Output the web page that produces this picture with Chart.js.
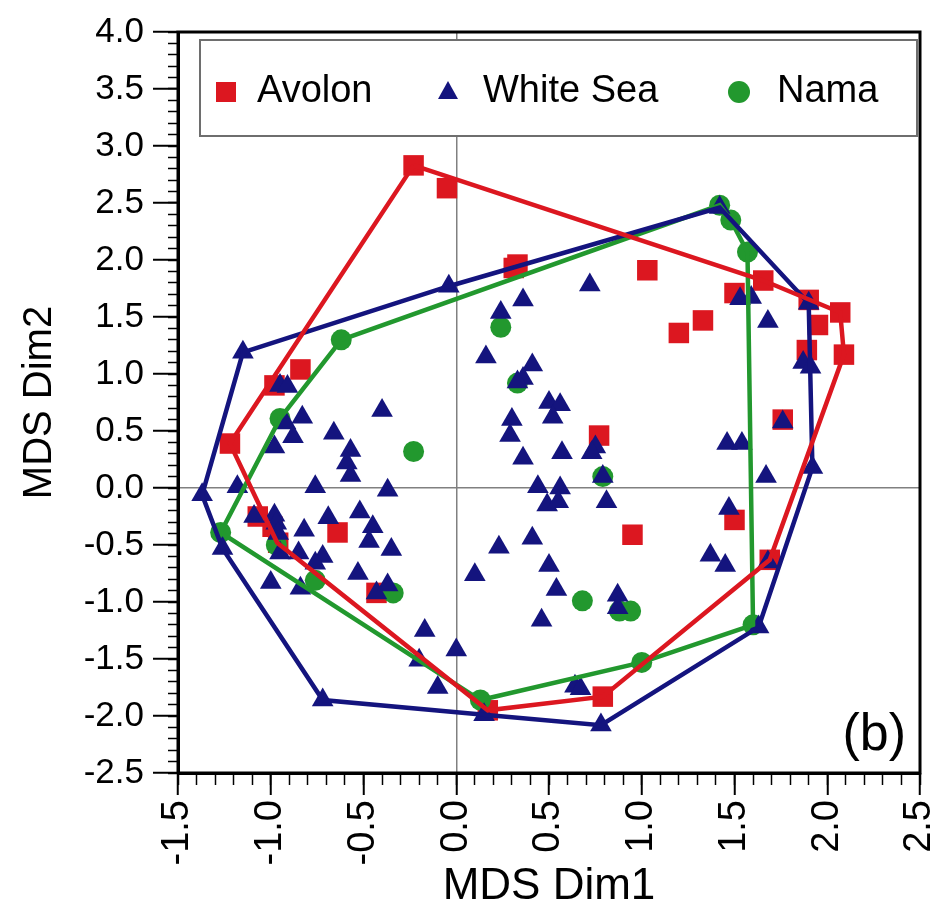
<!DOCTYPE html>
<html>
<head>
<meta charset="utf-8">
<script src="https://cdn.jsdelivr.net/npm/chart.js@4.4.0/dist/chart.umd.min.js"></script>
<style>
  html, body { margin: 0; padding: 0; background: #fff; }
</style>
</head>
<body>
<canvas id="mds" width="943" height="913"></canvas>
<script>
// groups
const groupNames = ['Avolon', 'White Sea', 'Nama'];

// Avolon (red squares)
const avolonX = [-0.23, -0.05, 0.33, 0.31, 1.03, 1.20, 1.33, 1.50, 1.655, 1.90, 2.07, 1.95, 1.89, 2.09,
  1.76, 1.50, 1.69, 0.77, 0.95, 0.79, 0.17, -0.84, -0.98, -1.22, -1.07, -0.99, -0.96, -0.64, -0.43];
const avolonY = [2.83, 2.63, 1.96, 1.93, 1.91, 1.36, 1.47, 1.71, 1.82, 1.65, 1.54, 1.43, 1.21, 1.17,
  0.60, -0.28, -0.63, 0.46, -0.41, -1.83, -1.95, 1.04, 0.90, 0.39, -0.25, -0.34, -0.48, -0.39, -0.92];

// White Sea (blue triangles)
const whiteSeaX = [-1.15, -0.04, 1.42, 1.90, 1.92, 1.63, 0.78, 0.15, -0.72, -1.26, -1.37,
  -0.95, -0.91, 0.72, 0.36, 0.24, 0.16, 0.41, 0.36, 1.53, 1.59, 1.68, 1.87, 1.91,
  -0.40, -0.83, -0.92, -0.66, -0.88, -0.98, -0.57, -0.59, -0.57, -1.18, -0.76, -0.37,
  -1.09, -0.98, -0.97, -0.69, -0.52, -0.82, -0.45, -0.96, -0.47, -0.35, -0.95, -0.85,
  -0.72, -0.76, -0.53, -1.00, -0.84, -0.43, -0.37, -0.17, 0.10,
  0.33, 0.50, 0.56, 0.52, 0.30, 0.29, 0.75, 0.73, 0.57, 0.36, 0.79, 0.44, 0.56, 0.49,
  0.55, 0.81, 0.41, 0.23, 0.50, 0.54, 0.87, 0.87, 0.46, 0.00, 0.64, 0.67, -0.20, -0.10,
  1.76, 1.46, 1.54, 1.67, 1.47, 1.37, 1.45, 1.68];
const whiteSeaY = [1.19, 1.77, 2.46, 1.62, 0.18, -1.22, -2.08, -1.99, -1.86, -0.53, -0.06,
  0.90, 0.89, 1.78, 1.65, 1.54, 1.15, 1.08, 0.96, 1.66, 1.67, 1.46, 1.10, 1.06,
  0.68, 0.62, 0.57, 0.48, 0.45, 0.36, 0.33, 0.22, 0.11, 0.01, 0.01, -0.02,
  -0.25, -0.24, -0.31, -0.26, -0.21, -0.37, -0.34, -0.40, -0.47, -0.54, -0.57, -0.57,
  -0.60, -0.66, -0.75, -0.83, -0.88, -0.92, -0.85, -1.25, -0.76,
  0.93, 0.75, 0.73, 0.62, 0.60, 0.46, 0.36, 0.31, 0.31, 0.26, 0.10, 0.01, 0.00, -0.15,
  -0.12, -0.12, -0.44, -0.52, -0.68, -0.89, -0.94, -1.05, -1.16, -1.42, -1.74, -1.76, -1.51, -1.75,
  0.58, 0.39, 0.39, 0.10, -0.18, -0.59, -0.68, -0.65];

// Nama (green circles)
const namaX = [-0.62, 1.42, 1.48, 1.57, 1.60, 1.00, 0.13, -1.27, -0.95, -0.23, 0.24, 0.33,
  0.79, 0.68, 0.88, 0.94, -0.34, -0.76, -0.97];
const namaY = [1.30, 2.48, 2.35, 2.07, -1.20, -1.53, -1.86, -0.39, 0.61, 0.32, 1.41, 0.92,
  0.10, -0.99, -1.08, -1.08, -0.92, -0.81, -0.50];

// convex hull outlines
const avolonHullX = [-0.23, 1.655, 2.07, 2.09, 1.69, 0.79, 0.17, -0.965, -1.22, -0.23];
const avolonHullY = [2.83, 1.82, 1.54, 1.17, -0.63, -1.83, -1.95, -0.48, 0.39, 2.83];
const whiteSeaHullX = [-1.15, -0.04, 1.42, 1.90, 1.92, 1.63, 0.78, 0.15, -0.72, -1.26, -1.37, -1.15];
const whiteSeaHullY = [1.19, 1.77, 2.46, 1.62, 0.18, -1.22, -2.08, -1.99, -1.86, -0.53, -0.06, 1.19];
const namaHullX = [-0.62, 1.42, 1.48, 1.57, 1.60, 1.00, 0.13, -1.27, -0.95, -0.62];
const namaHullY = [1.30, 2.48, 2.35, 2.07, -1.20, -1.53, -1.86, -0.39, 0.61, 1.30];

const RED = '#dc1720';
const BLUE = '#14147e';
const GREEN = '#22982e';
const FONT = "'Liberation Sans', Arial, sans-serif";

function pts(xs, ys) {
    return xs.map((x, i) => ({ x: x, y: ys[i] }));
}

function hull(xs, ys, color, order) {
    return {
        data: pts(xs, ys),
        showLine: true,
        borderColor: color,
        borderWidth: 4.5,
        pointRadius: 0,
        pointHoverRadius: 0,
        fill: false,
        order: order
    };
}

// rahmen, legende und (b)
const decorations = {
    id: 'decorations',
    afterDraw(chart) {
        const ctx = chart.ctx;
        const a = chart.chartArea;
        ctx.save();
        ctx.strokeStyle = '#000';
        ctx.lineWidth = 3;
        ctx.strokeRect(a.left, a.top, a.right - a.left, a.bottom - a.top);

        // legend box
        ctx.fillStyle = '#fff';
        ctx.fillRect(200, 40, 717, 96);
        ctx.strokeStyle = '#6e6e6e';
        ctx.lineWidth = 2;
        ctx.strokeRect(200, 40, 717, 96);

        const cy = 92;
        ctx.fillStyle = RED;
        ctx.fillRect(216, cy - 10, 20, 20);
        ctx.fillStyle = BLUE;
        ctx.beginPath();
        ctx.moveTo(448, cy - 11);
        ctx.lineTo(458, cy + 7);
        ctx.lineTo(438, cy + 7);
        ctx.closePath();
        ctx.fill();
        ctx.fillStyle = GREEN;
        ctx.beginPath();
        ctx.arc(739, cy, 11, 0, Math.PI * 2);
        ctx.fill();

        ctx.fillStyle = '#000';
        ctx.font = '38px ' + FONT;
        ctx.textBaseline = 'middle';
        ctx.textAlign = 'left';
        ctx.fillText(groupNames[0], 257, cy);
        ctx.fillText(groupNames[1], 483, cy);
        ctx.fillText(groupNames[2], 777, cy);

        ctx.font = '52px ' + FONT;
        ctx.textAlign = 'right';
        ctx.textBaseline = 'alphabetic';
        ctx.fillText('(b)', 906, 750);
        ctx.restore();
    }
};

const zeroLine = c => (c.tick && Math.abs(c.tick.value) < 1e-9) ? '#808080' : 'rgba(0,0,0,0)';

new Chart(document.getElementById('mds'), {
    type: 'scatter',
    data: {
        datasets: [
            hull(avolonHullX, avolonHullY, RED, 1),
            hull(whiteSeaHullX, whiteSeaHullY, BLUE, 2),
            hull(namaHullX, namaHullY, GREEN, 3),
            {
                label: groupNames[1],
                data: pts(whiteSeaX, whiteSeaY),
                pointStyle: 'triangle',
                pointRadius: 12.5,
                backgroundColor: BLUE,
                borderColor: BLUE,
                borderWidth: 0,
                order: 4
            },
            {
                label: groupNames[2],
                data: pts(namaX, namaY),
                pointStyle: 'circle',
                pointRadius: 10.5,
                backgroundColor: GREEN,
                borderColor: GREEN,
                borderWidth: 0,
                order: 5
            },
            {
                label: groupNames[0],
                data: pts(avolonX, avolonY),
                pointStyle: 'rect',
                pointRadius: 14.5,
                backgroundColor: RED,
                borderColor: RED,
                borderWidth: 0,
                order: 6
            }
        ]
    },
    options: {
        responsive: false,
        animation: false,
        devicePixelRatio: 1,
        layout: { padding: { top: 32, right: 23, left: 0, bottom: 0 } },
        plugins: {
            legend: { display: false },
            tooltip: { enabled: false }
        },
        scales: {
            xMinor: {
                type: 'linear', position: 'bottom', weight: 0,
                min: -1.5, max: 2.5,
                ticks: { display: false, stepSize: 0.1, autoSkip: false },
                grid: { drawOnChartArea: false, tickLength: 12, tickColor: '#000', tickWidth: 1.5 },
                border: { display: false },
                afterFit: s => { s.height = 0; s.paddingLeft = 0; s.paddingRight = 0; }
            },
            x: {
                type: 'linear', position: 'bottom', weight: 1,
                min: -1.5, max: 2.5,
                ticks: {
                    stepSize: 0.5, minRotation: 90, maxRotation: 90, padding: 5,
                    color: '#000', font: { family: FONT, size: 38 },
                    callback: v => v.toFixed(1)
                },
                grid: { color: zeroLine, lineWidth: 1.5, tickColor: '#000', tickWidth: 2, tickLength: 22 },
                border: { display: true, color: '#000', width: 3 },
                title: {
                    display: true, text: 'MDS Dim1', color: '#000',
                    font: { family: FONT, size: 44 }, padding: { top: 0, bottom: 0 }
                },
                afterFit: s => { s.height = 140; s.paddingLeft = 0; s.paddingRight = 0; }
            },
            yMinor: {
                type: 'linear', position: 'left', weight: 0,
                min: -2.5, max: 4.0,
                ticks: { display: false, stepSize: 0.1, autoSkip: false },
                grid: { drawOnChartArea: false, tickLength: 10, tickColor: '#000', tickWidth: 1.5 },
                border: { display: false },
                afterFit: s => { s.width = 0; s.paddingTop = 0; s.paddingBottom = 0; }
            },
            y: {
                type: 'linear', position: 'left', weight: 1,
                min: -2.5, max: 4.0,
                ticks: {
                    stepSize: 0.5, padding: 9,
                    color: '#000', font: { family: FONT, size: 35 },
                    callback: v => v.toFixed(1)
                },
                grid: { color: zeroLine, lineWidth: 1.5, tickColor: '#000', tickWidth: 2, tickLength: 25 },
                border: { display: true, color: '#000', width: 3 },
                title: {
                    display: true, text: 'MDS Dim2', color: '#000',
                    font: { family: FONT, size: 40 }, padding: { top: 16, bottom: 0 }
                },
                afterFit: s => { s.width = 178; s.paddingTop = 0; s.paddingBottom = 0; }
            }
        }
    },
    plugins: [decorations]
});
</script>
</body>
</html>
